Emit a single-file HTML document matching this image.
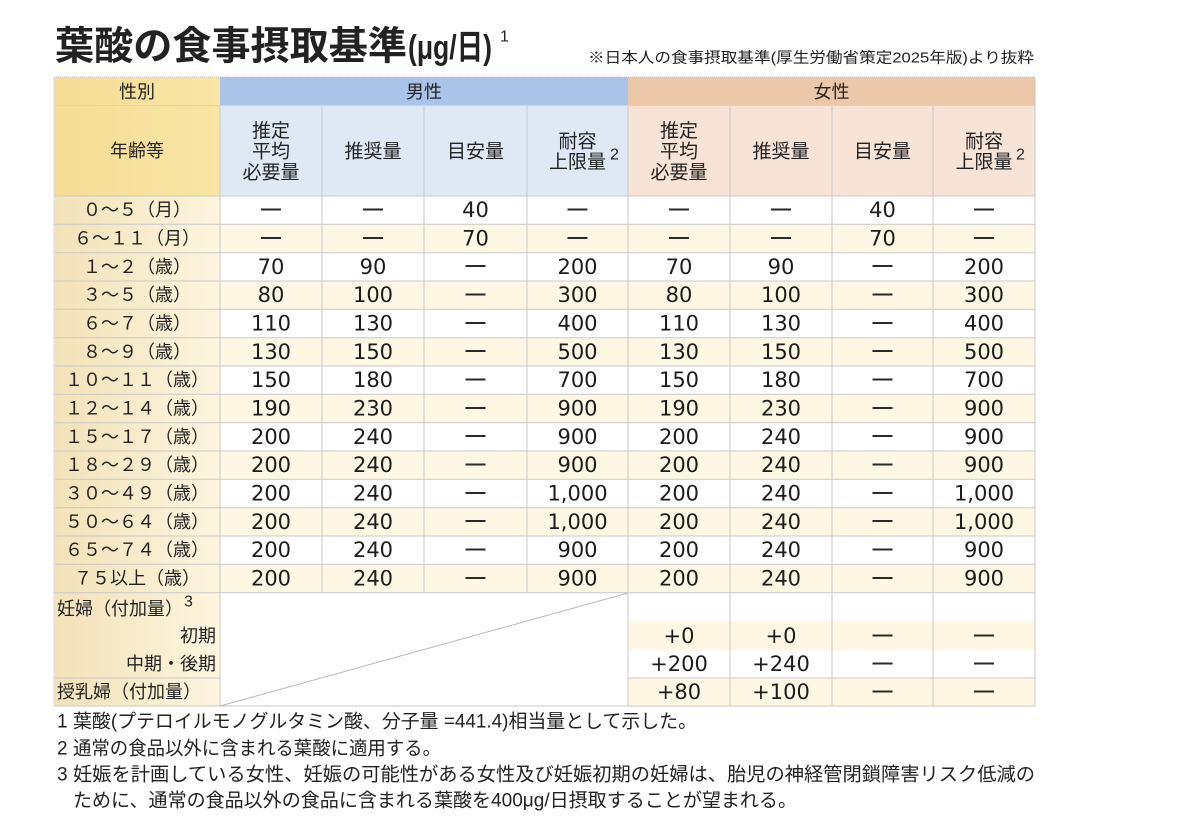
<!DOCTYPE html>
<html lang="ja">
<head>
<meta charset="utf-8">
<style>
  html,body{margin:0;padding:0;background:#fff;}
  svg{display:block;}
  .t{font-family:"Liberation Sans","Noto Sans CJK JP",sans-serif;fill:#222;}
  .h{font-size:18px;text-anchor:middle;dominant-baseline:central;}
  .s{font-size:19px;text-anchor:middle;dominant-baseline:central;}
  .l{font-size:18px;text-anchor:middle;dominant-baseline:central;}
  .lp{font-size:18px;dominant-baseline:central;}
  .lr{font-size:18px;text-anchor:end;dominant-baseline:central;}
  .n{font-family:"DejaVu Sans",sans-serif;font-size:21px;fill:#1c1c1c;text-anchor:middle;dominant-baseline:central;}
  .d{font-family:"Liberation Sans",sans-serif;font-size:20px;font-weight:bold;fill:#2a2a2a;text-anchor:middle;dominant-baseline:central;}
  .sup{font-family:"Liberation Sans",sans-serif;font-size:16px;fill:#222;dominant-baseline:central;}
  .f{font-size:19px;dominant-baseline:central;}
  .g{stroke:#c9c9c9;stroke-width:1;fill:none;}
</style>
</head>
<body>
<svg width="1200" height="840" viewBox="0 0 1200 840" xmlns="http://www.w3.org/2000/svg">
  <defs>
    <linearGradient id="lg" x1="0" x2="1" y1="0" y2="0">
      <stop offset="0" stop-color="#f3e2b8"/>
      <stop offset="1" stop-color="#fdf5df"/>
    </linearGradient>
    <linearGradient id="yg" x1="0" x2="1" y1="0" y2="0">
      <stop offset="0" stop-color="#f6dc94"/>
      <stop offset="1" stop-color="#f9e5a6"/>
    </linearGradient>
  </defs>

  <!-- Title -->
  <text class="t" x="55" y="47" font-size="39" font-weight="bold" dominant-baseline="central" textLength="352" lengthAdjust="spacingAndGlyphs">葉酸の食事摂取基準</text>
  <text class="t" x="408" y="48" font-size="34" font-weight="bold" dominant-baseline="central" textLength="84" lengthAdjust="spacingAndGlyphs">(μg/日)</text>
  <text class="sup" x="500" y="37" font-size="18">1</text>
  <text class="t" x="588" y="58" font-size="15" dominant-baseline="central" textLength="446" lengthAdjust="spacingAndGlyphs">※日本人の食事摂取基準(厚生労働省策定2025年版)より抜粋</text>

  <!-- Header backgrounds -->
  <rect x="54" y="77" width="166" height="119" fill="url(#yg)"/>
  <rect x="220" y="77" width="408" height="28.5" fill="#a9c4e8"/>
  <rect x="628" y="77" width="407" height="28.5" fill="#ecc8a8"/>
  <rect x="220" y="105.5" width="408" height="90.5" fill="#dfe9f6"/>
  <rect x="628" y="105.5" width="407" height="90.5" fill="#f7e4d7"/>

  <!-- Data backgrounds -->
  <rect x="54" y="196" width="166" height="510" fill="url(#lg)"/>
  <rect x="220" y="196" width="815" height="510" fill="#ffffff"/>
  <g fill="#fdf7e4">
    <rect x="220" y="224.3" width="815" height="28.4"/>
    <rect x="220" y="281.0" width="815" height="28.4"/>
    <rect x="220" y="337.7" width="815" height="28.4"/>
    <rect x="220" y="394.3" width="815" height="28.4"/>
    <rect x="220" y="451.0" width="815" height="28.4"/>
    <rect x="220" y="507.7" width="815" height="28.4"/>
    <rect x="220" y="564.3" width="815" height="28.4"/>
    <rect x="628" y="621" width="407" height="29"/>
    <rect x="628" y="678" width="407" height="28"/>
  </g>

  <!-- Grid lines -->
  <line x1="54" y1="77" x2="1035" y2="77" stroke="#bdbdbd" stroke-width="1" stroke-dasharray="1 1"/>
  <g class="g">
    <line x1="54" y1="105.5" x2="1035" y2="105.5" stroke="#d4d4d4"/>
    <line x1="54" y1="196" x2="1035" y2="196"/>
    <line x1="54" y1="224.3" x2="1035" y2="224.3"/>
    <line x1="54" y1="252.7" x2="1035" y2="252.7"/>
    <line x1="54" y1="281.0" x2="1035" y2="281.0"/>
    <line x1="54" y1="309.3" x2="1035" y2="309.3"/>
    <line x1="54" y1="337.7" x2="1035" y2="337.7"/>
    <line x1="54" y1="366.0" x2="1035" y2="366.0"/>
    <line x1="54" y1="394.3" x2="1035" y2="394.3"/>
    <line x1="54" y1="422.7" x2="1035" y2="422.7"/>
    <line x1="54" y1="451.0" x2="1035" y2="451.0"/>
    <line x1="54" y1="479.3" x2="1035" y2="479.3"/>
    <line x1="54" y1="507.7" x2="1035" y2="507.7"/>
    <line x1="54" y1="536.0" x2="1035" y2="536.0"/>
    <line x1="54" y1="564.3" x2="1035" y2="564.3"/>
    <line x1="54" y1="592.7" x2="1035" y2="592.7"/>
    <line x1="54" y1="678" x2="220" y2="678"/>
    <line x1="628" y1="678" x2="1035" y2="678"/>
    <line x1="54" y1="706" x2="1035" y2="706"/>
    <line x1="54" y1="77" x2="54" y2="706" stroke="#dcdcdc"/>
    <line x1="220" y1="105.5" x2="220" y2="706"/>
    <line x1="322" y1="105.5" x2="322" y2="592.7"/>
    <line x1="424" y1="105.5" x2="424" y2="592.7"/>
    <line x1="527" y1="105.5" x2="527" y2="592.7"/>
    <line x1="628" y1="105.5" x2="628" y2="706"/>
    <line x1="730" y1="105.5" x2="730" y2="706"/>
    <line x1="832" y1="105.5" x2="832" y2="706"/>
    <line x1="933" y1="105.5" x2="933" y2="706"/>
    <line x1="1035" y1="77" x2="1035" y2="706"/>
    <line x1="220" y1="706" x2="628" y2="593" stroke="#b8b8b8"/>
  </g>

  <!-- Header text -->
  <g class="t">
    <text class="h" x="137" y="92">性別</text>
    <text class="h" x="424" y="92">男性</text>
    <text class="h" x="831.5" y="92">女性</text>
    <text class="h" x="137" y="151">年齢等</text>

    <text class="s" x="271" y="131.5">推定</text>
    <text class="s" x="271" y="152">平均</text>
    <text class="s" x="271" y="173">必要量</text>
    <text class="s" x="373" y="152">推奨量</text>
    <text class="s" x="475.5" y="152">目安量</text>
    <text class="s" x="577.5" y="142">耐容</text>
    <text class="s" x="577.5" y="162.5">上限量</text>

    <text class="s" x="679" y="131.5">推定</text>
    <text class="s" x="679" y="152">平均</text>
    <text class="s" x="679" y="173">必要量</text>
    <text class="s" x="781" y="152">推奨量</text>
    <text class="s" x="882.5" y="152">目安量</text>
    <text class="s" x="984" y="142">耐容</text>
    <text class="s" x="984" y="162.5">上限量</text>
  </g>
  <text class="sup" x="610" y="155">2</text>
  <text class="sup" x="1016" y="155">2</text>

  <!-- Row labels -->
  <g class="t">
    <text class="l" x="137" y="210.2">０～５（月）</text>
    <text class="l" x="137" y="238.5">６～１１（月）</text>
    <text class="l" x="137" y="266.8">１～２（歳）</text>
    <text class="l" x="137" y="295.2">３～５（歳）</text>
    <text class="l" x="137" y="323.5">６～７（歳）</text>
    <text class="l" x="137" y="351.8">８～９（歳）</text>
    <text class="l" x="137" y="380.2">１０～１１（歳）</text>
    <text class="l" x="137" y="408.5">１２～１４（歳）</text>
    <text class="l" x="137" y="436.8">１５～１７（歳）</text>
    <text class="l" x="137" y="465.2">１８～２９（歳）</text>
    <text class="l" x="137" y="493.5">３０～４９（歳）</text>
    <text class="l" x="137" y="521.8">５０～６４（歳）</text>
    <text class="l" x="137" y="550.2">６５～７４（歳）</text>
    <text class="l" x="137" y="578.5">７５以上（歳）</text>

    <text class="lp" x="57" y="609">妊婦（付加量）</text>
    <text class="lr" x="216" y="636">初期</text>
    <text class="lr" x="216" y="664">中期・後期</text>
    <text class="lp" x="57" y="692">授乳婦（付加量）</text>
  </g>
  <text class="sup" x="184" y="602">3</text>

  <!-- Row 0: 0~5 -->
  <text class="d" x="271" y="209">—</text><text class="d" x="373" y="209">—</text><text class="n" x="475.5" y="210.2">40</text><text class="d" x="577.5" y="209">—</text>
  <text class="d" x="679" y="209">—</text><text class="d" x="781" y="209">—</text><text class="n" x="882.5" y="210.2">40</text><text class="d" x="984" y="209">—</text>
  <!-- Row 1: 6~11 -->
  <text class="d" x="271" y="237.3">—</text><text class="d" x="373" y="237.3">—</text><text class="n" x="475.5" y="238.5">70</text><text class="d" x="577.5" y="237.3">—</text>
  <text class="d" x="679" y="237.3">—</text><text class="d" x="781" y="237.3">—</text><text class="n" x="882.5" y="238.5">70</text><text class="d" x="984" y="237.3">—</text>
  <!-- Row 2: 1~2 -->
  <text class="n" x="271" y="266.8">70</text><text class="n" x="373" y="266.8">90</text><text class="d" x="475.5" y="265.6">—</text><text class="n" x="577.5" y="266.8">200</text>
  <text class="n" x="679" y="266.8">70</text><text class="n" x="781" y="266.8">90</text><text class="d" x="882.5" y="265.6">—</text><text class="n" x="984" y="266.8">200</text>
  <!-- Row 3: 3~5 -->
  <text class="n" x="271" y="295.2">80</text><text class="n" x="373" y="295.2">100</text><text class="d" x="475.5" y="294">—</text><text class="n" x="577.5" y="295.2">300</text>
  <text class="n" x="679" y="295.2">80</text><text class="n" x="781" y="295.2">100</text><text class="d" x="882.5" y="294">—</text><text class="n" x="984" y="295.2">300</text>
  <!-- Row 4: 6~7 -->
  <text class="n" x="271" y="323.5">110</text><text class="n" x="373" y="323.5">130</text><text class="d" x="475.5" y="322.3">—</text><text class="n" x="577.5" y="323.5">400</text>
  <text class="n" x="679" y="323.5">110</text><text class="n" x="781" y="323.5">130</text><text class="d" x="882.5" y="322.3">—</text><text class="n" x="984" y="323.5">400</text>
  <!-- Row 5: 8~9 -->
  <text class="n" x="271" y="351.8">130</text><text class="n" x="373" y="351.8">150</text><text class="d" x="475.5" y="350.6">—</text><text class="n" x="577.5" y="351.8">500</text>
  <text class="n" x="679" y="351.8">130</text><text class="n" x="781" y="351.8">150</text><text class="d" x="882.5" y="350.6">—</text><text class="n" x="984" y="351.8">500</text>
  <!-- Row 6: 10~11 -->
  <text class="n" x="271" y="380.2">150</text><text class="n" x="373" y="380.2">180</text><text class="d" x="475.5" y="379">—</text><text class="n" x="577.5" y="380.2">700</text>
  <text class="n" x="679" y="380.2">150</text><text class="n" x="781" y="380.2">180</text><text class="d" x="882.5" y="379">—</text><text class="n" x="984" y="380.2">700</text>
  <!-- Row 7: 12~14 -->
  <text class="n" x="271" y="408.5">190</text><text class="n" x="373" y="408.5">230</text><text class="d" x="475.5" y="407.3">—</text><text class="n" x="577.5" y="408.5">900</text>
  <text class="n" x="679" y="408.5">190</text><text class="n" x="781" y="408.5">230</text><text class="d" x="882.5" y="407.3">—</text><text class="n" x="984" y="408.5">900</text>
  <!-- Row 8: 15~17 -->
  <text class="n" x="271" y="436.8">200</text><text class="n" x="373" y="436.8">240</text><text class="d" x="475.5" y="435.6">—</text><text class="n" x="577.5" y="436.8">900</text>
  <text class="n" x="679" y="436.8">200</text><text class="n" x="781" y="436.8">240</text><text class="d" x="882.5" y="435.6">—</text><text class="n" x="984" y="436.8">900</text>
  <!-- Row 9: 18~29 -->
  <text class="n" x="271" y="465.2">200</text><text class="n" x="373" y="465.2">240</text><text class="d" x="475.5" y="464">—</text><text class="n" x="577.5" y="465.2">900</text>
  <text class="n" x="679" y="465.2">200</text><text class="n" x="781" y="465.2">240</text><text class="d" x="882.5" y="464">—</text><text class="n" x="984" y="465.2">900</text>
  <!-- Row 10: 30~49 -->
  <text class="n" x="271" y="493.5">200</text><text class="n" x="373" y="493.5">240</text><text class="d" x="475.5" y="492.3">—</text><text class="n" x="577.5" y="493.5">1,000</text>
  <text class="n" x="679" y="493.5">200</text><text class="n" x="781" y="493.5">240</text><text class="d" x="882.5" y="492.3">—</text><text class="n" x="984" y="493.5">1,000</text>
  <!-- Row 11: 50~64 -->
  <text class="n" x="271" y="521.8">200</text><text class="n" x="373" y="521.8">240</text><text class="d" x="475.5" y="520.6">—</text><text class="n" x="577.5" y="521.8">1,000</text>
  <text class="n" x="679" y="521.8">200</text><text class="n" x="781" y="521.8">240</text><text class="d" x="882.5" y="520.6">—</text><text class="n" x="984" y="521.8">1,000</text>
  <!-- Row 12: 65~74 -->
  <text class="n" x="271" y="550.2">200</text><text class="n" x="373" y="550.2">240</text><text class="d" x="475.5" y="549">—</text><text class="n" x="577.5" y="550.2">900</text>
  <text class="n" x="679" y="550.2">200</text><text class="n" x="781" y="550.2">240</text><text class="d" x="882.5" y="549">—</text><text class="n" x="984" y="550.2">900</text>
  <!-- Row 13: 75+ -->
  <text class="n" x="271" y="578.5">200</text><text class="n" x="373" y="578.5">240</text><text class="d" x="475.5" y="577.3">—</text><text class="n" x="577.5" y="578.5">900</text>
  <text class="n" x="679" y="578.5">200</text><text class="n" x="781" y="578.5">240</text><text class="d" x="882.5" y="577.3">—</text><text class="n" x="984" y="578.5">900</text>

  <!-- Pregnancy / lactation -->
  <text class="n" x="679" y="636">+0</text><text class="n" x="781" y="636">+0</text><text class="d" x="882.5" y="634.8">—</text><text class="d" x="984" y="634.8">—</text>
  <text class="n" x="679" y="664">+200</text><text class="n" x="781" y="664">+240</text><text class="d" x="882.5" y="662.8">—</text><text class="d" x="984" y="662.8">—</text>
  <text class="n" x="679" y="692">+80</text><text class="n" x="781" y="692">+100</text><text class="d" x="882.5" y="690.8">—</text><text class="d" x="984" y="690.8">—</text>

  <!-- Footnotes -->
  <g class="t">
    <text class="f" x="57" y="722">1</text>
    <text class="f" x="73" y="722" textLength="624" lengthAdjust="spacingAndGlyphs">葉酸(プテロイルモノグルタミン酸、分子量 =441.4)相当量として示した。</text>
    <text class="f" x="57" y="749">2</text>
    <text class="f" x="73" y="749" textLength="368" lengthAdjust="spacingAndGlyphs">通常の食品以外に含まれる葉酸に適用する。</text>
    <text class="f" x="57" y="775">3</text>
    <text class="f" x="73" y="775" textLength="962" lengthAdjust="spacingAndGlyphs">妊娠を計画している女性、妊娠の可能性がある女性及び妊娠初期の妊婦は、胎児の神経管閉鎖障害リスク低減の</text>
    <text class="f" x="73" y="801" textLength="724" lengthAdjust="spacingAndGlyphs">ために、通常の食品以外の食品に含まれる葉酸を400μg/日摂取することが望まれる。</text>
  </g>
</svg>
</body>
</html>
